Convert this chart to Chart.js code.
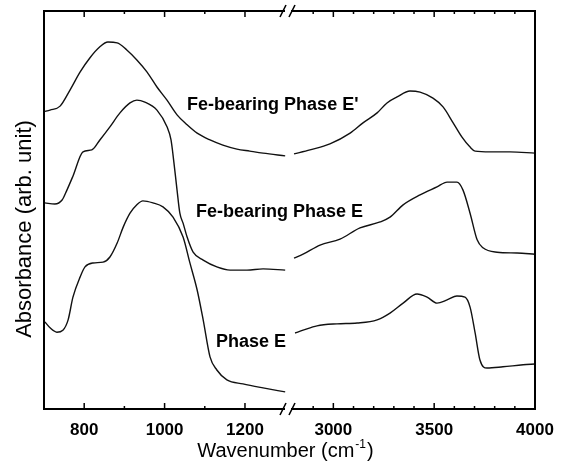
<!DOCTYPE html>
<html>
<head>
<meta charset="utf-8">
<script src="https://cdn.jsdelivr.net/npm/chart.js@4.4.0/dist/chart.umd.min.js"></script>
<style>
  html, body { margin: 0; padding: 0; background: #fff; }
</style>
</head>
<body>
<canvas id="grafico" width="562" height="467"></canvas>
<script>
// wavenumber (cm-1) / absorbance (arb. unit, spectra already offset)
const waveLowEp = [700, 715, 740, 765, 790, 814, 839, 859, 882, 906, 931, 956, 981, 1006, 1031, 1056, 1081, 1113, 1145, 1180, 1212, 1245, 1300];
const absLowEp  = [74.7, 75.1, 76.1, 80.2, 84.7, 88.2, 91.0, 92.2, 92.0, 90.2, 87.7, 84.7, 80.9, 77.6, 73.9, 71.4, 69.3, 67.6, 66.3, 65.3, 64.8, 64.3, 63.6];
const waveHighEp = [2805, 2884, 2983, 3083, 3147, 3217, 3266, 3316, 3380, 3430, 3494, 3544, 3594, 3638, 3678, 3703, 3777, 3876, 4000];
const absHighEp  = [64.1, 65.1, 66.6, 69.3, 71.9, 74.4, 76.9, 78.4, 79.9, 79.6, 78.1, 75.9, 71.9, 68.3, 65.8, 64.8, 64.6, 64.6, 64.3];

const waveLowFe = [702, 727, 745, 757, 772, 797, 819, 839, 864, 889, 914, 931, 951, 981, 1006, 1016, 1023, 1031, 1038, 1046, 1056, 1071, 1096, 1130, 1163, 1205, 1245, 1300];
const absLowFe  = [51.8, 51.5, 52.5, 55.0, 58.5, 64.6, 65.1, 67.6, 70.9, 74.4, 76.9, 77.6, 77.1, 75.1, 70.9, 67.6, 62.1, 55.0, 49.2, 46.7, 43.2, 39.4, 37.4, 35.7, 34.9, 34.9, 35.2, 34.9];
const waveHighFe = [2805, 2850, 2934, 3033, 3132, 3232, 3281, 3346, 3430, 3514, 3564, 3613, 3643, 3678, 3713, 3742, 3812, 3911, 4000];
const absHighFe  = [37.9, 38.9, 41.2, 42.7, 45.5, 47.0, 48.2, 51.3, 53.8, 55.8, 57.0, 57.0, 55.0, 49.2, 42.5, 40.5, 39.4, 39.2, 38.9];

const waveLowE = [702, 715, 732, 747, 760, 772, 790, 802, 822, 847, 864, 882, 897, 914, 931, 946, 971, 996, 1021, 1046, 1063, 1081, 1096, 1113, 1130, 1155, 1195, 1245, 1300];
const absLowE  = [21.9, 20.4, 19.3, 19.8, 22.4, 28.1, 33.2, 35.7, 36.7, 36.9, 38.2, 41.7, 45.7, 49.2, 51.3, 52.3, 51.8, 50.8, 48.2, 43.2, 36.7, 29.9, 22.4, 13.1, 9.8, 7.3, 6.3, 5.3, 4.3];
const waveHighE = [2810, 2850, 2919, 3018, 3118, 3217, 3281, 3346, 3415, 3465, 3514, 3564, 3613, 3653, 3678, 3703, 3727, 3762, 3841, 3941, 4000];
const absHighE  = [19.1, 19.8, 20.9, 21.4, 21.6, 22.4, 24.1, 26.6, 28.9, 28.1, 26.6, 27.4, 28.4, 28.1, 25.6, 19.1, 12.3, 10.3, 10.6, 11.1, 11.3];

const lowTickLabels = [800, 1000, 1200];
const highTickLabels = [3000, 3500, 4000];
const lowMinor = [900, 1100];
const highMinor = [2900, 3100, 3200, 3300, 3400, 3600, 3700, 3800, 3900];

const curveNames = ["Fe-bearing Phase E'", "Fe-bearing Phase E", "Phase E"];

function pts(xs, ys) {
    return xs.map((x, i) => ({x: x, y: ys[i]}));
}

function serie(xs, ys, axis) {
    return {
        data: pts(xs, ys),
        xAxisID: axis,
        yAxisID: 'y',
        borderColor: '#111',
        borderWidth: 1.4,
        pointRadius: 0,
        fill: false,
        cubicInterpolationMode: 'monotone'
    };
}

// frame, inward ticks, axis break, curve names and axis titles
const moldura = {
    id: 'moldura',
    afterDraw(chart) {
        const ctx = chart.ctx;
        const a = chart.chartArea;
        const lo = chart.scales.xLow, hi = chart.scales.xHigh, y = chart.scales.y;
        ctx.save();
        ctx.strokeStyle = '#000';
        ctx.lineWidth = 2;
        ctx.strokeRect(a.left, a.top, a.right - a.left, a.bottom - a.top);

        ctx.lineWidth = 1.5;
        function tick(scale, v, len) {
            const px = scale.getPixelForValue(v);
            ctx.beginPath();
            ctx.moveTo(px, a.bottom); ctx.lineTo(px, a.bottom - len);
            ctx.moveTo(px, a.top); ctx.lineTo(px, a.top + len);
            ctx.stroke();
        }
        lowTickLabels.forEach(v => tick(lo, v, 6));
        lowMinor.forEach(v => tick(lo, v, 3));
        highTickLabels.forEach(v => tick(hi, v, 6));
        highMinor.forEach(v => tick(hi, v, 3));

        // break marks
        const bx = lo.right - 2;
        ctx.lineWidth = 1.6;
        [a.top, a.bottom].forEach(yy => {
            ctx.fillStyle = '#fff';
            ctx.fillRect(bx - 3, yy - 1.5, 6, 3);
            ctx.beginPath();
            ctx.moveTo(bx - 8, yy + 6); ctx.lineTo(bx - 2, yy - 6);
            ctx.moveTo(bx + 1, yy + 6); ctx.lineTo(bx + 7, yy - 6);
            ctx.stroke();
        });

        // curve names
        ctx.fillStyle = '#000';
        ctx.font = 'bold 18px "Liberation Sans", Arial, sans-serif';
        ctx.textAlign = 'left';
        ctx.textBaseline = 'middle';
        ctx.fillText(curveNames[0], lo.getPixelForValue(1056), y.getPixelForValue(76.4));
        ctx.fillText(curveNames[1], lo.getPixelForValue(1078), y.getPixelForValue(49.5));
        ctx.fillText(curveNames[2], lo.getPixelForValue(1128), y.getPixelForValue(16.8));

        // x title with superscript
        ctx.font = '20px "Liberation Sans", Arial, sans-serif';
        ctx.textBaseline = 'alphabetic';
        const t1 = 'Wavenumber (cm', sup = '-1', t2 = ')';
        const w1 = ctx.measureText(t1).width;
        ctx.font = '12px "Liberation Sans", Arial, sans-serif';
        const ws = ctx.measureText(sup).width;
        ctx.font = '20px "Liberation Sans", Arial, sans-serif';
        const w2 = ctx.measureText(t2).width;
        let x0 = (a.left + a.right) / 2 - 5 - (w1 + ws + w2) / 2;
        const base = 457;
        ctx.fillText(t1, x0, base);
        ctx.font = '12px "Liberation Sans", Arial, sans-serif';
        ctx.fillText(sup, x0 + w1 + 1, base - 9);
        ctx.font = '20px "Liberation Sans", Arial, sans-serif';
        ctx.fillText(t2, x0 + w1 + ws + 2, base);

        // y title
        ctx.translate(25, 229);
        ctx.rotate(-Math.PI / 2);
        ctx.textAlign = 'center';
        ctx.textBaseline = 'middle';
        ctx.font = '22px "Liberation Sans", Arial, sans-serif';
        ctx.fillText('Absorbance (arb. unit)', 0, 0);
        ctx.restore();
    }
};

const tickFont = {family: '"Liberation Sans", Arial, sans-serif', size: 17, weight: 'bold'};

let grafico = new Chart(document.getElementById('grafico').getContext('2d'), {
    type: 'line',
    data: {
        datasets: [
            serie(waveLowEp, absLowEp, 'xLow'),
            serie(waveHighEp, absHighEp, 'xHigh'),
            serie(waveLowFe, absLowFe, 'xLow'),
            serie(waveHighFe, absHighFe, 'xHigh'),
            serie(waveLowE, absLowE, 'xLow'),
            serie(waveHighE, absHighE, 'xHigh')
        ]
    },
    options: {
        responsive: false,
        animation: false,
        layout: {padding: {left: 44, right: 27, top: 11, bottom: 0}},
        plugins: {legend: {display: false}, tooltip: {enabled: false}},
        scales: {
            xLow: {
                type: 'linear', position: 'bottom', stack: 'x', stackWeight: 246,
                min: 700, max: 1312,
                grid: {display: false}, border: {display: false},
                afterBuildTicks: s => { s.ticks = lowTickLabels.map(v => ({value: v})); },
                afterFit: s => { s.height = 58; },
                ticks: {color: '#000', font: tickFont, padding: 3, maxRotation: 0, autoSkip: false,
                        callback: v => String(v)}
            },
            xHigh: {
                type: 'linear', position: 'bottom', stack: 'x', stackWeight: 245,
                min: 2785, max: 4000,
                grid: {display: false}, border: {display: false},
                afterBuildTicks: s => { s.ticks = highTickLabels.map(v => ({value: v})); },
                afterFit: s => { s.height = 58; },
                ticks: {color: '#000', font: tickFont, padding: 3, maxRotation: 0, autoSkip: false,
                        callback: v => String(v)}
            },
            y: {
                type: 'linear', display: false, min: 0, max: 100
            }
        }
    },
    plugins: [moldura]
});
</script>
</body>
</html>
